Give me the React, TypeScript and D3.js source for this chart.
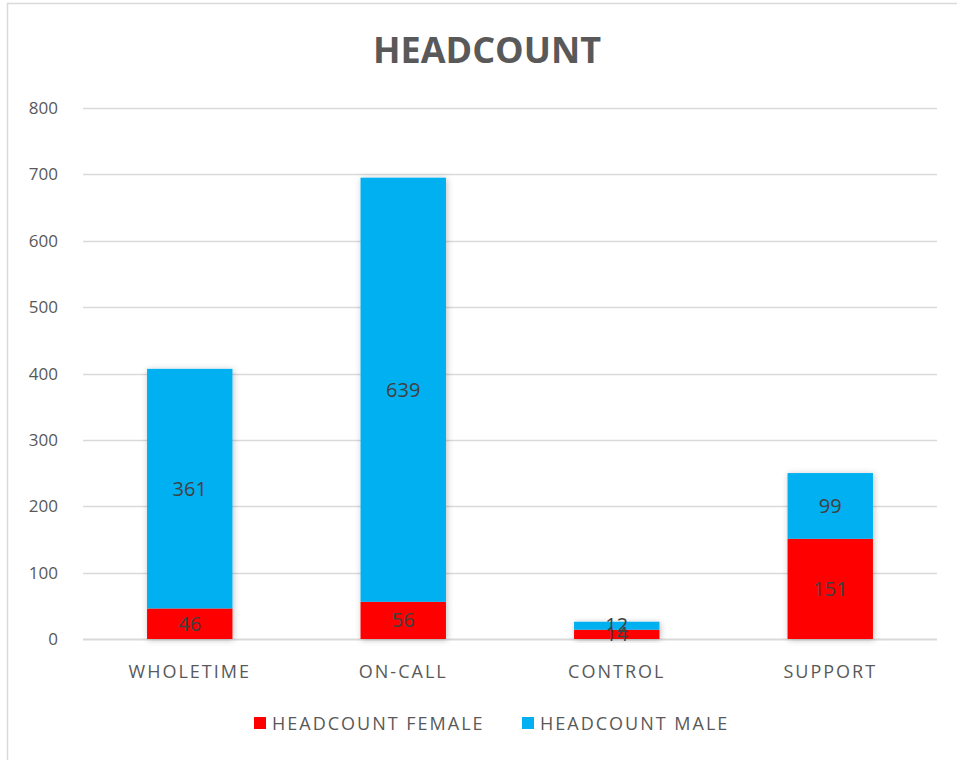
import { useEffect, useRef } from "react";
import * as d3 from "d3";

const categories = ["WHOLETIME", "ON-CALL", "CONTROL", "SUPPORT"];
const femaleValues = [46, 56, 14, 151];
const maleValues = [361, 639, 12, 99];
const seriesNames = ["HEADCOUNT FEMALE", "HEADCOUNT MALE"];
const seriesColors = ["#FF0000", "#00B0F0"];
const yTicks = [0, 100, 200, 300, 400, 500, 600, 700, 800];

const FONT = "'Open Sans', sans-serif";

function HeadcountChart() {
  const ref = useRef<SVGSVGElement | null>(null);

  useEffect(() => {
    if (!ref.current) {
      return;
    }
    const width = 957;
    const height = 760;
    const margin = { top: 108, right: 20, bottom: 121, left: 83 };

    const svg = d3.select(ref.current);
    svg.selectAll("*").remove();
    svg.attr("viewBox", `0 0 ${width} ${height}`);

    const defs = svg.append("defs");
    const filter = defs
      .append("filter")
      .attr("id", "barShadow")
      .attr("x", "-20%")
      .attr("y", "-20%")
      .attr("width", "140%")
      .attr("height", "140%");
    filter
      .append("feDropShadow")
      .attr("dx", 1)
      .attr("dy", 1)
      .attr("stdDeviation", 3)
      .attr("flood-color", "#000")
      .attr("flood-opacity", 0.25);

    svg
      .append("rect")
      .attr("x", 0)
      .attr("y", 0)
      .attr("width", width)
      .attr("height", height)
      .attr("fill", "white");

    svg
      .append("rect")
      .attr("x", 7.5)
      .attr("y", 3.5)
      .attr("width", width + 20)
      .attr("height", height + 20)
      .attr("fill", "none")
      .attr("stroke", "#D9D9D9")
      .attr("stroke-width", 1.5);

    const x = d3
      .scaleBand()
      .domain(categories)
      .range([margin.left, width - margin.right])
      .paddingInner(0.6)
      .paddingOuter(0.3);
    const y = d3
      .scaleLinear()
      .domain([0, 800])
      .range([height - margin.bottom, margin.top]);

    svg
      .append("text")
      .attr("x", 487)
      .attr("y", 63)
      .attr("text-anchor", "middle")
      .attr("fill", "#595959")
      .style("font-family", FONT)
      .style("font-size", "36px")
      .style("font-weight", "700")
      .text("HEADCOUNT");

    // gridlines
    svg
      .append("g")
      .selectAll("line")
      .data(yTicks)
      .join("line")
      .attr("x1", margin.left)
      .attr("x2", width - margin.right)
      .attr("y1", (d) => Math.round(y(d)) + 0.5)
      .attr("y2", (d) => Math.round(y(d)) + 0.5)
      .attr("stroke", "#D9D9D9")
      .attr("stroke-width", (d) => (d === 0 ? 2 : 1.3));

    svg
      .append("g")
      .selectAll("text")
      .data(yTicks)
      .join("text")
      .attr("x", 58)
      .attr("y", (d) => y(d) + 6)
      .attr("text-anchor", "end")
      .attr("fill", "#595959")
      .style("font-family", FONT)
      .style("font-size", "17px")
      .text((d) => d);

    const stacked = categories.map((c, i) => {
      const f = femaleValues[i];
      const m = maleValues[i];
      return [
        { cat: c, y0: 0, y1: f, value: f, color: seriesColors[0] },
        { cat: c, y0: f, y1: f + m, value: m, color: seriesColors[1] },
      ];
    });

    const barsG = svg.append("g");
    stacked.forEach((segs) => {
      const g = barsG.append("g").attr("filter", "url(#barShadow)");
      g.selectAll("rect")
        .data(segs)
        .join("rect")
        .attr("x", (d) => x(d.cat) as number)
        .attr("width", x.bandwidth())
        .attr("y", (d) => y(d.y1))
        .attr("height", (d) => y(d.y0) - y(d.y1))
        .attr("fill", (d) => d.color);
    });

    const labels = stacked.flat();
    svg
      .append("g")
      .selectAll("text")
      .data(labels)
      .join("text")
      .attr("x", (d) => (x(d.cat) as number) + x.bandwidth() / 2)
      .attr("y", (d) => {
        const mid = (y(d.y0) + y(d.y1)) / 2;
        if (d.cat === "CONTROL") {
          return d.y0 === 0 ? y(d.y0) + 2 : y(d.y1) + 10;
        }
        return mid + 7;
      })
      .attr("text-anchor", "middle")
      .attr("fill", "#404040")
      .style("font-family", FONT)
      .style("font-size", "20px")
      .text((d) => d.value);

    svg
      .append("g")
      .selectAll("text")
      .data(categories)
      .join("text")
      .attr("x", (d) => (x(d) as number) + x.bandwidth() / 2)
      .attr("y", 678)
      .attr("text-anchor", "middle")
      .attr("fill", "#595959")
      .style("font-family", FONT)
      .style("font-size", "18px")
      .style("letter-spacing", "2px")
      .text((d) => d);

    const legendX = [254, 522];
    const legend = svg
      .append("g")
      .selectAll("g")
      .data(seriesNames)
      .join("g")
      .attr("transform", (_, i) => `translate(${legendX[i]}, 717)`);
    legend
      .append("rect")
      .attr("width", 12)
      .attr("height", 12)
      .attr("fill", (_, i) => seriesColors[i]);
    legend
      .append("text")
      .attr("x", 18)
      .attr("y", 12.5)
      .attr("fill", "#595959")
      .style("font-family", FONT)
      .style("font-size", "18px")
      .style("letter-spacing", "2px")
      .text((d) => d);
  }, []);

  return <svg ref={ref} width={957} height={760} style={{ display: "block" }} />;
}

export default function App() {
  return (
    <div style={{ position: "absolute", left: 0, top: 0 }}>
      <HeadcountChart />
    </div>
  );
}
